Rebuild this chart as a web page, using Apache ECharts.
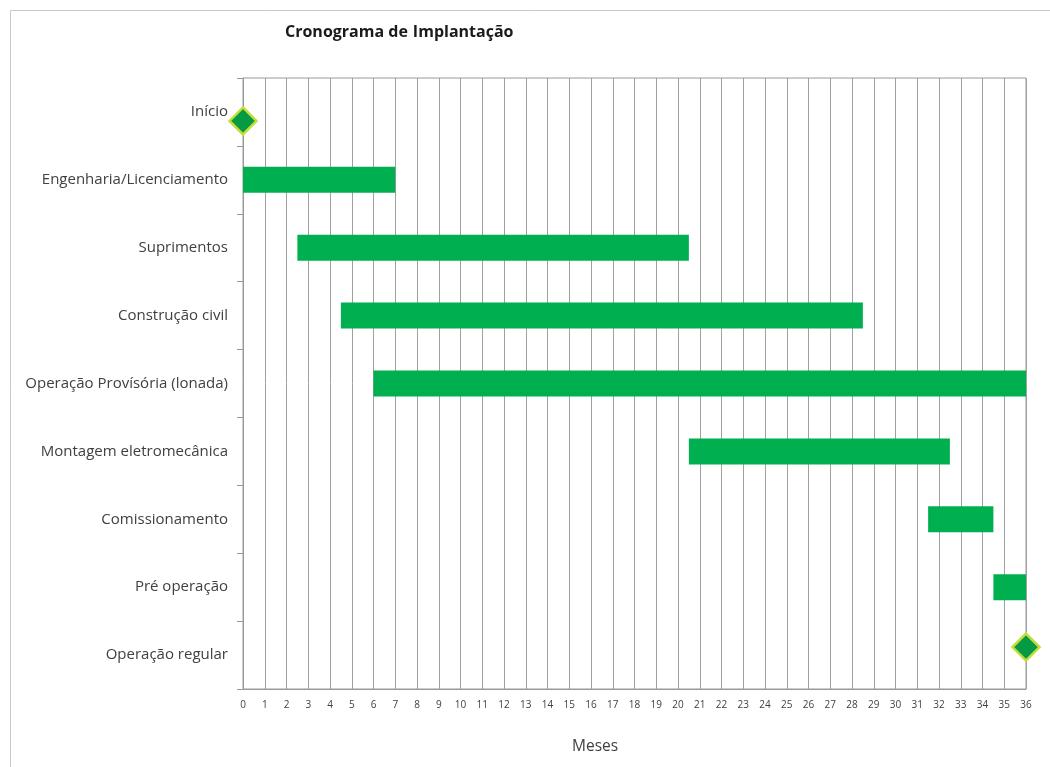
<!DOCTYPE html>
<html><head><meta charset="utf-8">
<script src="https://cdn.jsdelivr.net/npm/echarts@6/dist/echarts.min.js"></script>
<style>html,body{margin:0;padding:0;background:#fff}#c{width:1050px;height:767px}</style>
</head><body><div id="c"></div>
<script>
const categories = ['Início','Engenharia/Licenciamento','Suprimentos','Construção civil','Operação Provísória (lonada)','Montagem eletromecânica','Comissionamento','Pré operação','Operação regular'];
const starts = [null, 0, 2.5, 4.5, 6, 20.5, 31.5, 34.5, null];
const ends   = [null, 7, 20.5, 28.5, 36, 32.5, 34.5, 36, null];
const milestones = [[0, 'Início'], [36, 'Operação regular']];
const xTicks = {min: 0, max: 36, interval: 1};

const base = starts.map(s => s === null ? '-' : s);
const dur = starts.map((s, i) => s === null ? '-' : ends[i] - s);
const font = 'Open Sans';
const milestoneOffsets = [[0, 9], [0, -8]];

const chart = echarts.init(document.getElementById('c'), null, {renderer: 'canvas'});
chart.setOption({
  animation: false,
  backgroundColor: '#fff',
  graphic: [
    {type: 'rect', left: 8, top: 8, shape: {width: 1080, height: 800}, style: {fill: 'none', stroke: '#c9c9c9', lineWidth: 1}, silent: true, z: -1},
    {type: 'text', left: 572, top: 739, style: {text: 'Meses', font: '15.5px "Open Sans"', fill: '#404040'}}
  ],
  title: {
    text: '{b|Cronograma de} {r|Implantação}',
    left: 285, top: 23, padding: 0,
    textStyle: {rich: {
      b: {fontFamily: font, fontSize: 16, fontWeight: 'bold', color: '#1a1a1a'},
      r: {fontFamily: font, fontSize: 16, color: '#1a1a1a'}
    }}
  },
  grid: {left: 243, right: 24, top: 78, bottom: 78, show: true, borderColor: '#9a9a9a', borderWidth: 1},
  xAxis: {
    type: 'value', min: xTicks.min, max: xTicks.max, interval: xTicks.interval,
    axisLine: {show: true, lineStyle: {color: '#9a9a9a'}},
    axisTick: {show: false},
    axisLabel: {fontFamily: font, fontSize: 10, color: '#404040', margin: 11},
    splitLine: {show: true, lineStyle: {color: '#a0a0a0', width: 1}}
  },
  yAxis: {
    type: 'category', data: categories, inverse: true,
    axisLine: {show: true, lineStyle: {color: '#9a9a9a'}},
    axisTick: {show: true, length: 6, lineStyle: {color: '#9a9a9a'}},
    axisLabel: {fontFamily: font, fontSize: 15, color: '#404040', margin: 15},
    splitLine: {show: false}
  },
  series: [
    {type: 'bar', stack: 'g', data: base, itemStyle: {color: 'transparent'}, barWidth: 26, silent: true},
    {type: 'bar', stack: 'g', data: dur, itemStyle: {color: '#00b050'}, barWidth: 26},
    {type: 'scatter', symbol: 'diamond', symbolSize: 27,
     data: milestones.map((m, i) => ({value: m, symbolOffset: milestoneOffsets[i]})),
     itemStyle: {color: '#069a44', borderColor: '#c4dd3a', borderWidth: 2.5, opacity: 1}, z: 5}
  ]
});
</script></body></html>
